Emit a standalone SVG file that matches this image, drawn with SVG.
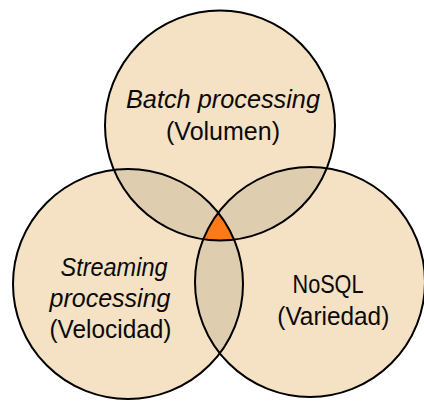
<svg xmlns="http://www.w3.org/2000/svg" width="424" height="401" viewBox="0 0 424 401">
  <style>
    .set { fill: #F5E1C3; stroke: none; }
    .pair { fill: #DFCDAF; stroke: none; }
    .core { fill: #FD7A17; stroke: none; }
    .rim { fill: none; stroke: #000; stroke-width: 2; }
    .lbl { font-family: "Liberation Sans", Arial, sans-serif; font-size: 25px; fill: #0a0a0a; text-anchor: middle; }
    .it { font-style: italic; }
  </style>
  <defs>
    <clipPath id="clipTop"><circle cx="220" cy="125.5" r="115"/></clipPath>
    <clipPath id="clipLeft"><circle cx="128" cy="284" r="115"/></clipPath>
    <clipPath id="clipRight"><circle cx="310" cy="282" r="115"/></clipPath>
  </defs>
  <rect width="424" height="401" fill="#fff"/>

  <!-- set bodies -->
  <circle class="set" cx="220" cy="125.5" r="115"/>
  <circle class="set" cx="128" cy="284" r="115"/>
  <circle class="set" cx="310" cy="282" r="115"/>

  <!-- pairwise overlaps -->
  <circle class="pair" cx="128" cy="284" r="115" clip-path="url(#clipTop)"/>
  <circle class="pair" cx="310" cy="282" r="115" clip-path="url(#clipTop)"/>
  <circle class="pair" cx="310" cy="282" r="115" clip-path="url(#clipLeft)"/>

  <!-- triple overlap -->
  <g clip-path="url(#clipTop)">
    <circle class="core" cx="128" cy="284" r="115" clip-path="url(#clipRight)"/>
  </g>

  <!-- outlines and labels -->
  <g id="batch">
    <circle class="rim" cx="220" cy="125.5" r="115"/>
    <text class="lbl it" x="223" y="107.5" textLength="194" lengthAdjust="spacingAndGlyphs">Batch processing</text>
    <text class="lbl" x="223" y="139.5" textLength="114" lengthAdjust="spacingAndGlyphs">(Volumen)</text>
  </g>
  <g id="streaming">
    <circle class="rim" cx="128" cy="284" r="115"/>
    <text class="lbl it" x="114" y="276" textLength="107" lengthAdjust="spacingAndGlyphs">Streaming</text>
    <text class="lbl it" x="110" y="306.5" textLength="121" lengthAdjust="spacingAndGlyphs">processing</text>
    <text class="lbl" x="110.5" y="338" textLength="122" lengthAdjust="spacingAndGlyphs">(Velocidad)</text>
  </g>
  <g id="nosql">
    <circle class="rim" cx="310" cy="282" r="115"/>
    <text class="lbl" x="328" y="293" textLength="71" lengthAdjust="spacingAndGlyphs">NoSQL</text>
    <text class="lbl" x="333.3" y="324.5" textLength="112" lengthAdjust="spacingAndGlyphs">(Variedad)</text>
  </g>
  <g id="connectors"/>
</svg>
